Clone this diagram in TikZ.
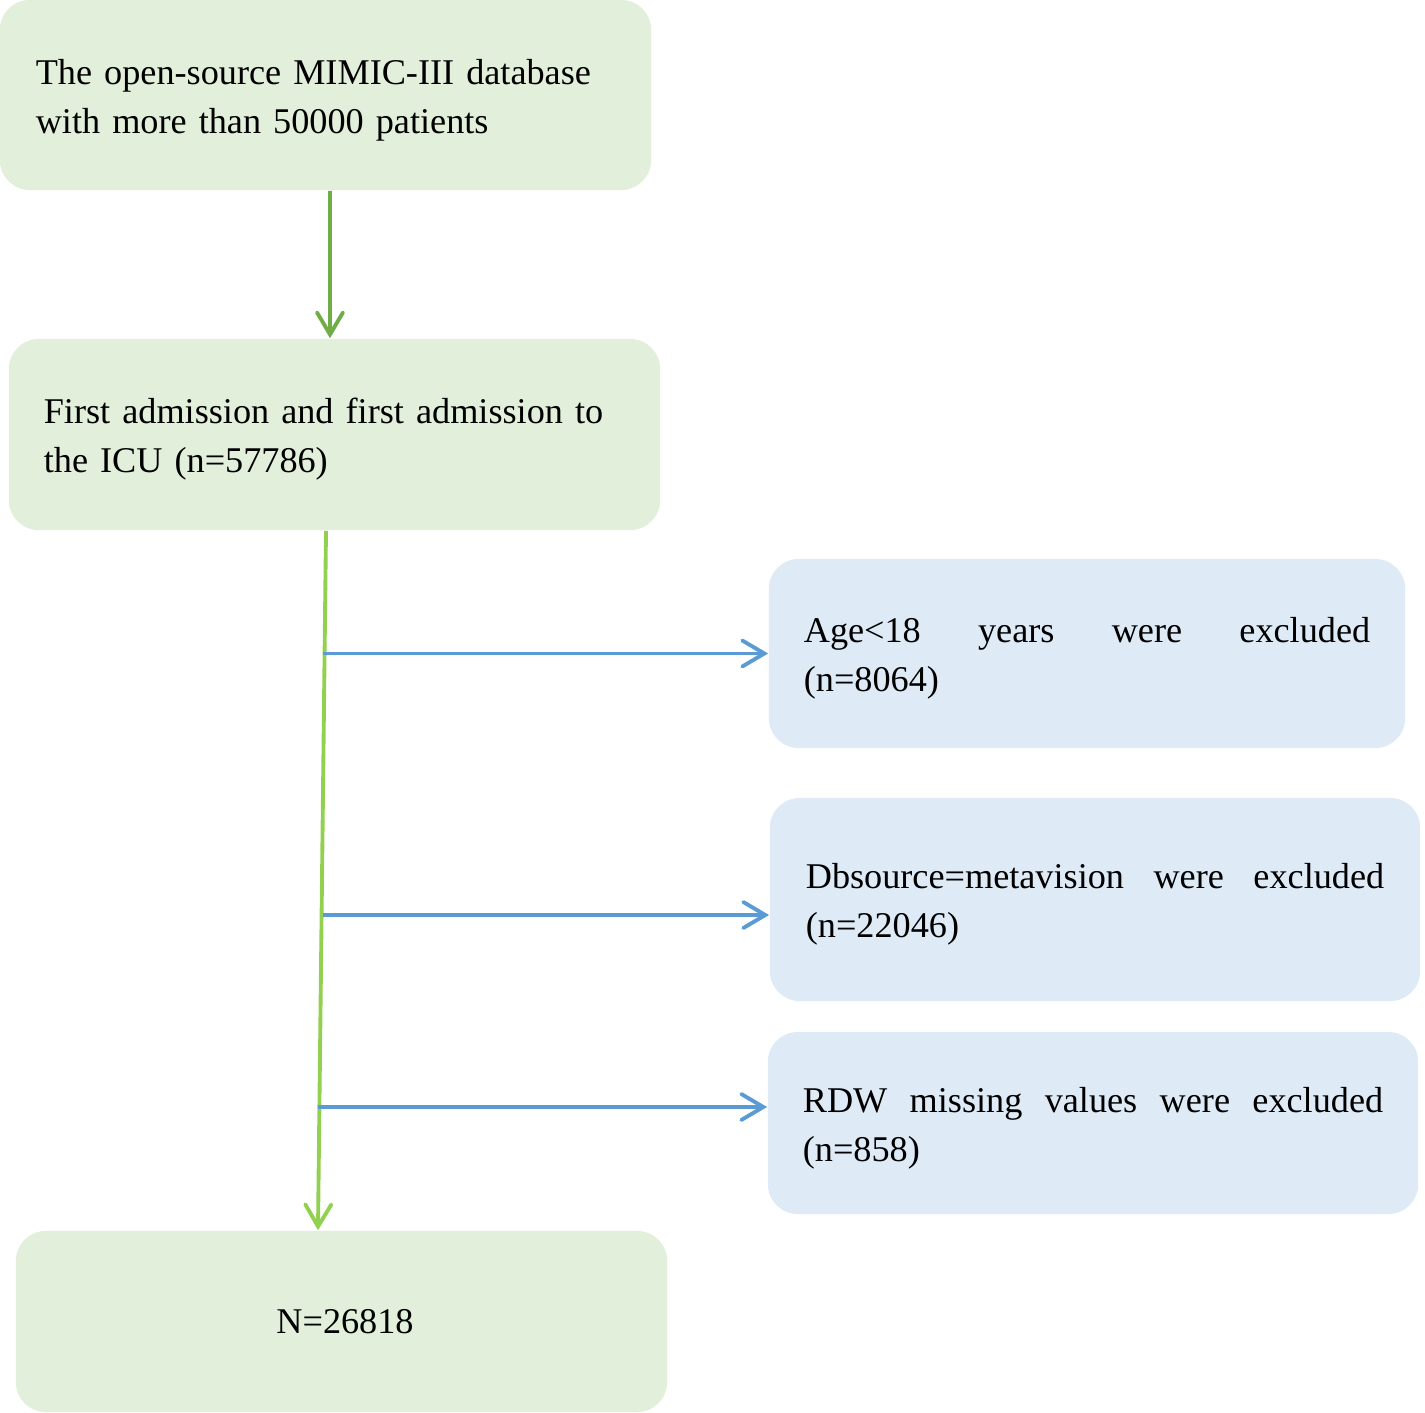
\documentclass[tikz,border=0pt]{standalone}
\usepackage{fontspec}
\setmainfont{Liberation Serif}
\usetikzlibrary{arrows.meta, positioning, calc}
\definecolor{boxgreen}{RGB}{226,239,218}
\definecolor{boxblue}{RGB}{222,235,247}
\definecolor{darkgreen}{RGB}{112,173,71}
\definecolor{lightgreen}{RGB}{146,208,80}
\definecolor{arrowblue}{RGB}{91,155,213}
\tolerance=9999
\hyphenpenalty=10000
\newcommand{\padtop}{\rule{0pt}{10pt}}

\begin{document}
\begin{tikzpicture}[x=0.01cm, y=-0.01cm,
  txt/.style={font=\fontsize{10.3}{13.9}\selectfont},
  twoline/.style={execute at begin node=\padtop},
  greenbox/.style={txt, fill=boxgreen, rounded corners=0.3cm, inner ysep=0pt},
  bluebox/.style={txt, twoline, fill=boxblue, rounded corners=0.3cm, inner ysep=0pt, align=justify},
  tip/.style={-{Straight Barb[length=2.2mm, width=2.6mm, line cap=round]}, line width=1.1pt}]
  \useasboundingbox (0,0) rectangle (1425,1412);
  % left column
  \node[greenbox, twoline, minimum width=6.51cm, minimum height=1.90cm, inner xsep=0.36cm,
        text width=5.79cm, align=left] (db) at (325.5,95)
    {The open-source MIMIC-III database\\with more than 50000 patients};
  \node[greenbox, twoline, minimum width=6.51cm, minimum height=1.91cm, inner xsep=0.35cm,
        text width=5.81cm, align=left] (icu) at (334.5,434.5)
    {First admission and first admission to\\the ICU (n=57786)};
  \node[greenbox, minimum width=6.51cm, minimum height=1.81cm] (final) at (341.5,1321.5)
    {\hspace*{0.07cm}N=26818};
  % exclusions
  \node[bluebox, minimum width=6.36cm, minimum height=1.89cm, inner xsep=0.35cm,
        text width=5.66cm] (age) at (1087,653.5)
    {Age<18 years were excluded\linebreak (n=8064)};
  \node[bluebox, minimum width=6.50cm, minimum height=2.03cm, inner xsep=0.36cm,
        text width=5.78cm] (dbs) at (1095,899.5)
    {Dbsource=metavision were excluded (n=22046)};
  \node[bluebox, minimum width=6.50cm, minimum height=1.82cm, inner xsep=0.35cm,
        text width=5.80cm] (rdw) at (1093,1123)
    {RDW missing values were excluded (n=858)};
  % arrows
  \draw[tip, darkgreen] ([xshift=0.045cm]db.south) -- ([xshift=-0.045cm]icu.north);
  \coordinate (top) at ([xshift=-0.085cm]icu.south);
  \coordinate (bot) at ([xshift=-0.235cm]final.north);
  \draw[tip, lightgreen] (top) -- (bot);
  \coordinate (agein) at (age.west);
  \coordinate (dbsin) at ([yshift=-0.155cm]dbs.west);
  \coordinate (rdwin) at ([yshift=0.16cm]rdw.west);
  \draw[tip, arrowblue] ([xshift=-0.03cm]top |- agein) -- (agein);
  \draw[tip, arrowblue] ([xshift=-0.03cm]top |- dbsin) -- (dbsin);
  \draw[tip, arrowblue] (bot |- rdwin) -- (rdwin);
\end{tikzpicture}
\end{document}
